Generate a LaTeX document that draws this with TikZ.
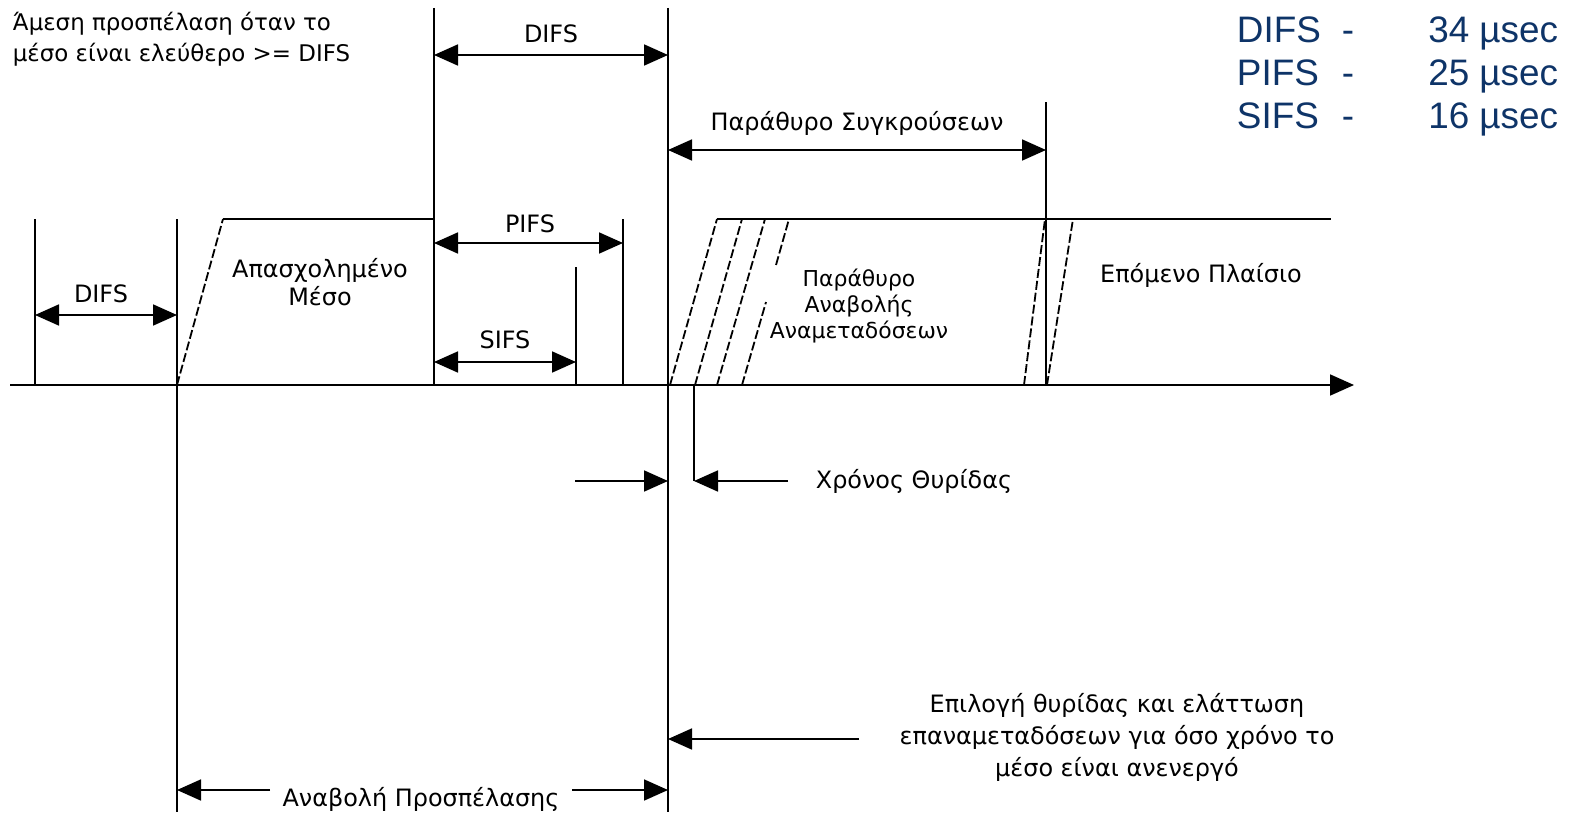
\documentclass[tikz,border=0pt]{standalone}
\usepackage{fontspec}
\setmainfont{Liberation Sans}
\newfontfamily\labelfont{DejaVu Sans}
\usetikzlibrary{arrows.meta}
\definecolor{tableblue}{RGB}{14,52,104}
\tikzset{
  lbl/.style={draw=none,inner sep=0pt,font=\labelfont\fontsize{24}{32}\selectfont},
  tbl/.style={draw=none,inner sep=0pt,text=tableblue,font=\fontsize{37}{42}\selectfont},
  ramp/.style={black,dash pattern=on 9bp off 3bp},
}
\begin{document}
\begin{tikzpicture}[x=1bp,y=-1bp,>={Triangle[length=24bp,width=21bp]},line width=1.8bp,line join=bevel]
\useasboundingbox (0,0) rectangle (1573,812);
%%
% time axis and boundaries
\coordinate (axisL) at (10,385);
\coordinate (axisR) at (1354,385);
\draw [black,->] (axisL) -- (axisR);
\draw (35,219) -- (35,385);
\draw (177,219) -- (177,812);
\draw (434,8) -- (434,385);
\draw (576,267) -- (576,385);
\draw (623,219) -- (623,385);
\draw (668,8) -- (668,812);
\draw (694,385) -- (694,481);
\draw (1046,102) -- (1046,385);
% busy medium and next frame
\draw [ramp] (177,385) -- (223,219);
\draw (223,219) -- (434,219);
\draw (717,219) -- (1331,219);
\draw [ramp] (670,385) -- (717,219);
\draw [ramp] (695,385) -- (742,219);
\draw [ramp] (717,385) -- (765,219);
\draw [ramp] (742,385) -- (766,302);
\draw [ramp] (776,265) -- (789,219);
\draw [ramp] (1024,385) -- (1045,219);
\draw [ramp] (1047,385) -- (1073,219);
%
% labels
\node (immediate) at (12,62) [lbl,anchor=base west,align=left,font=\labelfont\fontsize{23}{32}\selectfont] {Άμεση προσπέλαση όταν το\\μέσο είναι ελεύθερο >= DIFS};
\node (difsTop) at (551,43) [lbl,anchor=base] {DIFS};
\node (difsLeft) at (101,302) [lbl,anchor=base] {DIFS};
\node (busy) at (320,305) [lbl,anchor=base,align=center,font=\labelfont\fontsize{24}{28}\selectfont] {Απασχολημένο\\Μέσο};
\node (pifs) at (530,232) [lbl,anchor=base] {PIFS};
\node (sifs) at (505,348) [lbl,anchor=base] {SIFS};
\node (collision) at (857,130) [lbl,anchor=base] {Παράθυρο Συγκρούσεων};
\node (backoff) at (859,338) [lbl,anchor=base,align=center,font=\labelfont\fontsize{22}{26}\selectfont] {Παράθυρο\\Αναβολής\\Αναμεταδόσεων};
\node (nextframe) at (1201,282) [lbl,anchor=base] {Επόμενο Πλαίσιο};
\node (slot) at (914,488) [lbl,anchor=base] {Χρόνος Θυρίδας};
\node (choice) at (1117,776) [lbl,anchor=base,align=center] {Επιλογή θυρίδας και ελάττωση\\επαναμεταδόσεων για όσο χρόνο το\\μέσο είναι ανενεργό};
\node (defer) at (421,806) [lbl,anchor=base] {Αναβολή Προσπέλασης};
%
% dimension arrows
\coordinate (difsA) at (434,55);   \coordinate (difsB) at (668,55);
\coordinate (difsC) at (35,315);   \coordinate (difsD) at (177,315);
\coordinate (pifsA) at (434,243);  \coordinate (pifsB) at (623,243);
\coordinate (sifsA) at (434,362);  \coordinate (sifsB) at (576,362);
\coordinate (cwA) at (668,150);    \coordinate (cwB) at (1046,150);
\coordinate (slotA) at (575,481);  \coordinate (slotB) at (668,481);
\coordinate (slotC) at (788,481);  \coordinate (slotD) at (694,481);
\coordinate (choiceA) at (859,739); \coordinate (choiceB) at (668,739);
\coordinate (deferA) at (270,790); \coordinate (deferB) at (177,790);
\coordinate (deferC) at (572,790); \coordinate (deferD) at (668,790);
\draw [black,<->] (difsA) -- (difsB);
\draw [black,<->] (difsC) -- (difsD);
\draw [black,<->] (pifsA) -- (pifsB);
\draw [black,<->] (sifsA) -- (sifsB);
\draw [black,<->] (cwA) -- (cwB);
\draw [black,->] (slotA) -- (slotB);
\draw [black,->] (slotC) -- (slotD);
\draw [black,->] (choiceA) -- (choiceB);
\draw [black,->] (deferA) -- (deferB);
\draw [black,->] (deferC) -- (deferD);
%
% timing table
\node (difsName) at (1236,43) [tbl,anchor=base west] {DIFS};
\node (difsDash) at (1348,43) [tbl,anchor=base] {-};
\node (difsVal) at (1559,43) [tbl,anchor=base east] {34 µsec};
\node (pifsName) at (1236,85) [tbl,anchor=base west] {PIFS};
\node (pifsDash) at (1348,85) [tbl,anchor=base] {-};
\node (pifsVal) at (1559,85) [tbl,anchor=base east] {25 µsec};
\node (sifsName) at (1236,128) [tbl,anchor=base west] {SIFS};
\node (sifsDash) at (1348,128) [tbl,anchor=base] {-};
\node (sifsVal) at (1559,128) [tbl,anchor=base east] {16 µsec};
%
\end{tikzpicture}
\end{document}
